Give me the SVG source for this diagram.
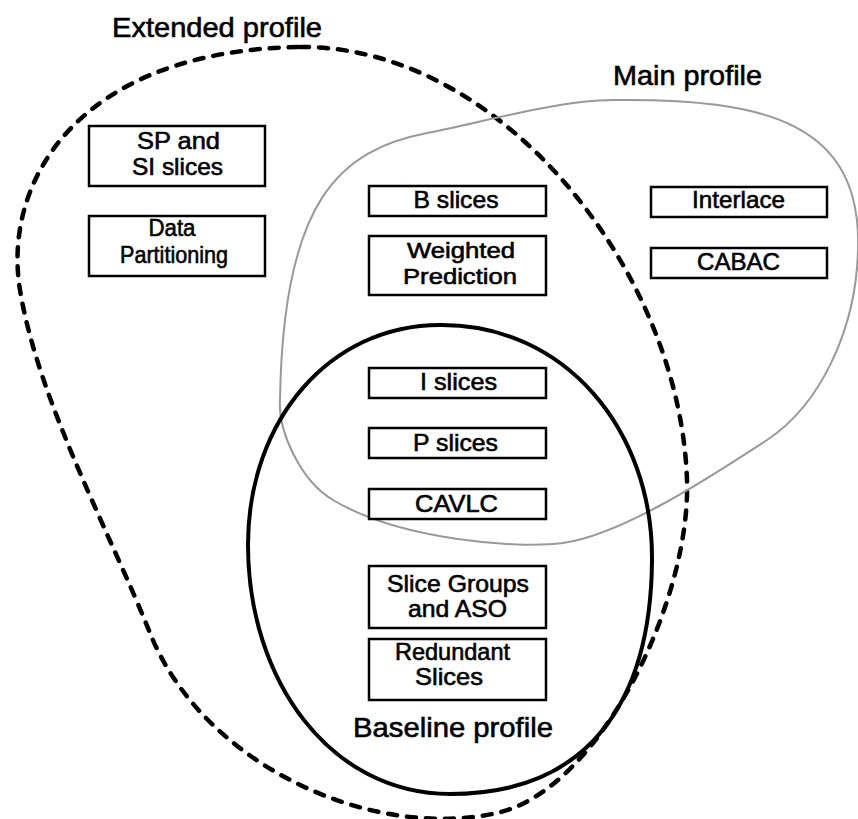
<svg xmlns="http://www.w3.org/2000/svg" width="858" height="819" viewBox="0 0 858 819">
  <style>
    .node rect { fill: #ffffff; stroke: #000000; stroke-width: 2.5; }
    .node text, .label { font-family: "Liberation Sans", Arial, Helvetica, sans-serif; fill: #000000; stroke: #000000; stroke-width: 0.6; }
    .node text { font-size: 24px; text-anchor: middle; }
    .node text.tight { font-size: 22px; }
    .label { font-size: 28px; }
    .extended { fill: none; stroke: #000000; stroke-width: 4.5; stroke-dasharray: 9 10; stroke-linecap: round; }
    .main { fill: none; stroke: #999999; stroke-width: 2; }
    .baseline { fill: none; stroke: #000000; stroke-width: 4; }
  </style>

  <!-- profile outlines -->
  <g id="profiles">
    <path id="extended-outline" class="extended"
      d="M 300,47 C 500,45 680,270 687,480 C 691,600 600,790 497,813 C 373,841 203,766 150,633 C 110,533 38,400 20,290 C 2,180 80,50 300,47 Z"/>
    <path id="main-outline" class="main"
      d="M 613,100 C 770,98 862,125 858,250 C 856,330 820,405 767,440 C 703,482 620,535 563,543 C 517,549 400,540 333,500 C 299.5,480 278,430 280,400 C 283,200 340,150 427,133 C 479,123 560,100 613,100 Z"/>
    <path id="baseline-outline" class="baseline"
      d="M 440,325 C 565,324 653,430 652,560 C 651,700 590,794 450,794 C 330,794 248,680 248,545 C 248,420 330,325 440,325 Z"/>
  </g>

  <!-- profile names -->
  <g id="profile-labels">
    <text class="label" x="112" y="37" textLength="210" lengthAdjust="spacingAndGlyphs">Extended profile</text>
    <text class="label" x="613" y="85" textLength="149" lengthAdjust="spacingAndGlyphs">Main profile</text>
    <text class="label" x="353" y="737" textLength="200" lengthAdjust="spacingAndGlyphs">Baseline profile</text>
  </g>

  <!-- feature boxes -->
  <g id="sp-si-slices" class="node">
    <rect x="89" y="126" width="176" height="60"/>
    <text x="178.5" y="149" textLength="83" lengthAdjust="spacingAndGlyphs">SP and</text>
    <text x="177.5" y="175" textLength="91" lengthAdjust="spacingAndGlyphs">SI slices</text>
  </g>
  <g id="data-partitioning" class="node">
    <rect x="89" y="216" width="176" height="60"/>
    <text x="172" y="236" textLength="47" lengthAdjust="spacingAndGlyphs">Data</text>
    <text x="174" y="263" textLength="108" lengthAdjust="spacingAndGlyphs">Partitioning</text>
  </g>
  <g id="b-slices" class="node">
    <rect x="369" y="186" width="177" height="30"/>
    <text x="456" y="208" textLength="85" lengthAdjust="spacingAndGlyphs">B slices</text>
  </g>
  <g id="weighted-prediction" class="node">
    <rect x="369" y="236" width="177" height="59"/>
    <text class="tight" x="461" y="258" textLength="108" lengthAdjust="spacingAndGlyphs">Weighted</text>
    <text class="tight" x="460" y="284" textLength="114" lengthAdjust="spacingAndGlyphs">Prediction</text>
  </g>
  <g id="interlace" class="node">
    <rect x="651" y="187" width="176" height="30"/>
    <text x="738.5" y="208" textLength="93" lengthAdjust="spacingAndGlyphs">Interlace</text>
  </g>
  <g id="cabac" class="node">
    <rect x="651" y="248" width="176" height="30"/>
    <text x="738.5" y="270" textLength="83" lengthAdjust="spacingAndGlyphs">CABAC</text>
  </g>
  <g id="i-slices" class="node">
    <rect x="369" y="368" width="177" height="30"/>
    <text x="458.5" y="390" textLength="77" lengthAdjust="spacingAndGlyphs">I slices</text>
  </g>
  <g id="p-slices" class="node">
    <rect x="369" y="428" width="177" height="30"/>
    <text x="455.5" y="451" textLength="85" lengthAdjust="spacingAndGlyphs">P slices</text>
  </g>
  <g id="cavlc" class="node">
    <rect x="369" y="489" width="177" height="30"/>
    <text x="456.5" y="512" textLength="83" lengthAdjust="spacingAndGlyphs">CAVLC</text>
  </g>
  <g id="slice-groups-aso" class="node">
    <rect x="369" y="566" width="177" height="62"/>
    <text x="458" y="592" textLength="142" lengthAdjust="spacingAndGlyphs">Slice Groups</text>
    <text x="457.5" y="617" textLength="99" lengthAdjust="spacingAndGlyphs">and ASO</text>
  </g>
  <g id="redundant-slices" class="node">
    <rect x="369" y="639" width="177" height="61"/>
    <text x="452.5" y="660" textLength="115" lengthAdjust="spacingAndGlyphs">Redundant</text>
    <text x="449" y="685" textLength="68" lengthAdjust="spacingAndGlyphs">Slices</text>
  </g>
</svg>
